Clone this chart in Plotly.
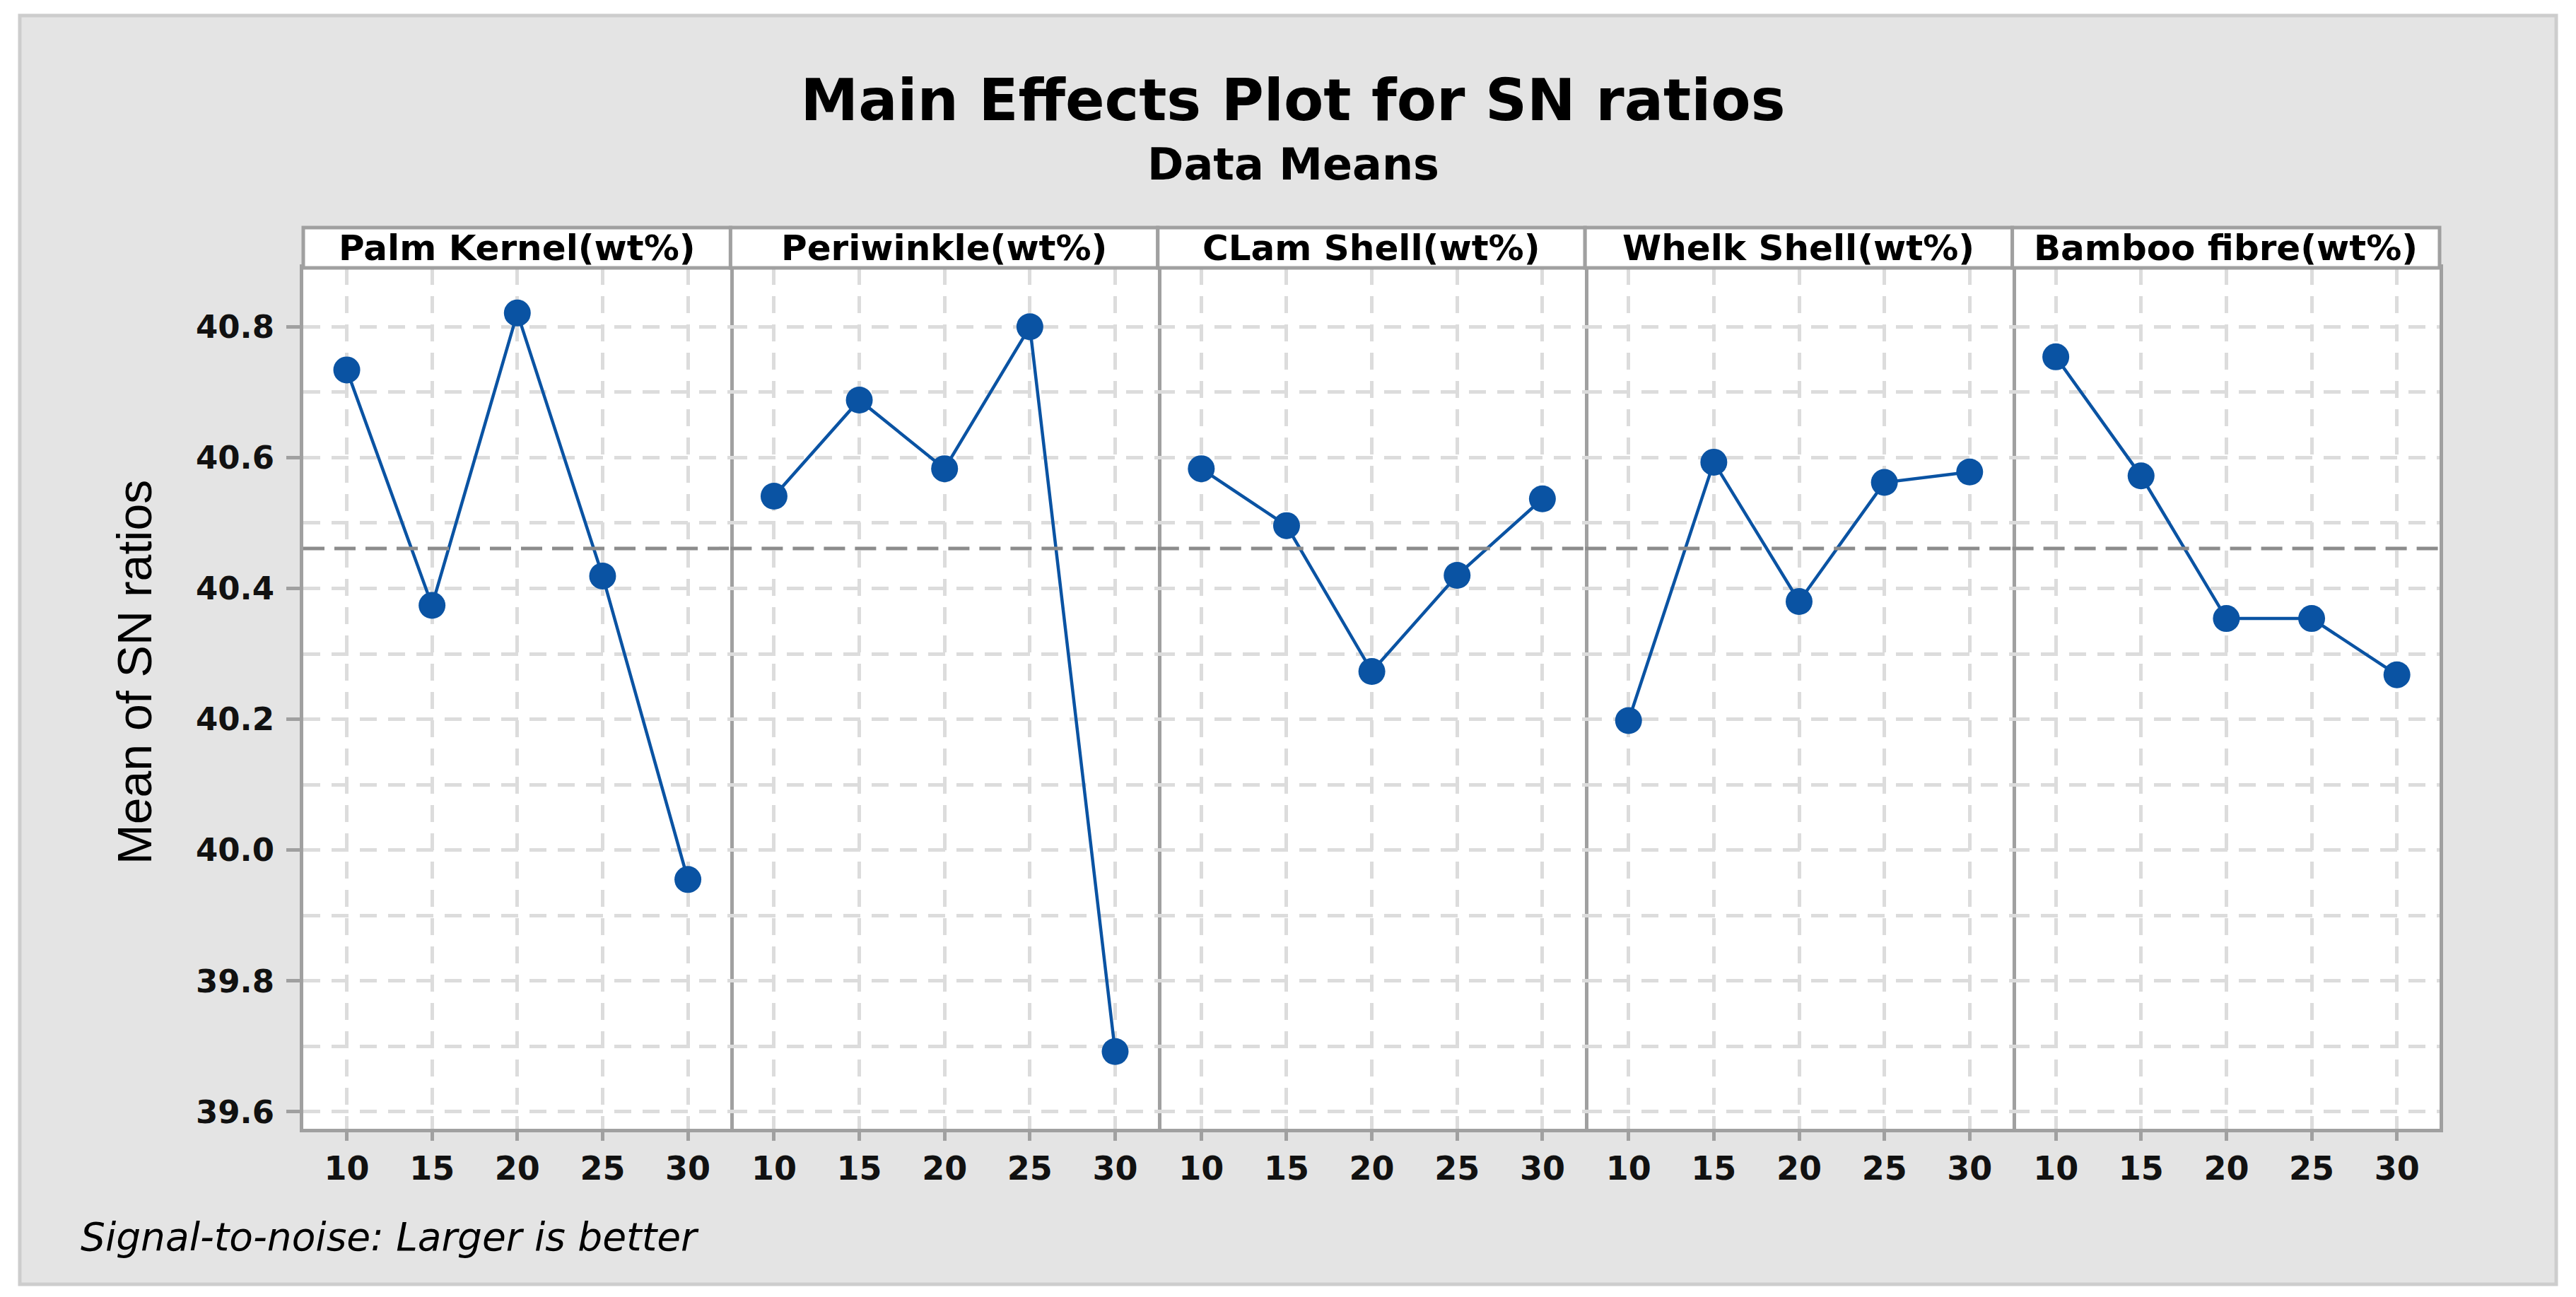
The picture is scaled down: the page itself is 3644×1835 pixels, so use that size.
import plotly.graph_objects as go
from plotly.subplots import make_subplots

# ---------------- data ----------------
factors = ["Palm Kernel(wt%)", "Periwinkle(wt%)", "CLam Shell(wt%)",
           "Whelk Shell(wt%)", "Bamboo fibre(wt%)"]
levels = [10, 15, 20, 25, 30]
palm_kernel = [40.734, 40.374, 40.821, 40.419, 39.955]
periwinkle = [40.541, 40.688, 40.583, 40.800, 39.692]
clam_shell = [40.583, 40.496, 40.273, 40.420, 40.537]
whelk_shell = [40.198, 40.593, 40.380, 40.562, 40.578]
bamboo_fibre = [40.754, 40.572, 40.354, 40.354, 40.268]
y_ticks = [39.6, 39.8, 40.0, 40.2, 40.4, 40.6, 40.8]

series = [palm_kernel, periwinkle, clam_shell, whelk_shell, bamboo_fibre]
all_vals = [v for s in series for v in s]
grand_mean = sum(all_vals) / len(all_vals)
y_minor = [(a + b) / 2 for a, b in zip(y_ticks[:-1], y_ticks[1:])] + [y_ticks[-1] + 0.1]

# ---------------- geometry ----------------
W, H = 3644, 1835
L, R, T, B = 429, 193, 322, 238
PLOT_TOP = 379


def xp(px):
    return (px - L) / (W - L - R)


def yp(py):
    return (H - B - py) / (H - T - B)


BLUE = "#0a53a3"
FRAME = "#a0a0a0"
GRID = "#dcdcdc"
FONT = "DejaVu Sans"

fig = make_subplots(rows=1, cols=5, shared_yaxes=True, horizontal_spacing=0)

for i, vals in enumerate(series, start=1):
    fig.add_trace(go.Scatter(x=levels, y=vals, mode="lines+markers",
                             line=dict(color=BLUE, width=4.5),
                             marker=dict(size=38, color=BLUE),
                             showlegend=False), row=1, col=i)

fig.update_xaxes(range=[7.45, 32.5], tickmode="array", tickvals=levels,
                 showline=True, mirror=True, linecolor=FRAME, linewidth=5,
                 showgrid=True, gridcolor=GRID, gridwidth=5, griddash="24px,16px",
                 ticks="outside", ticklen=12, tickwidth=5, tickcolor=FRAME,
                 tickfont=dict(family=FONT, size=46, color="#111111", weight="bold"),
                 zeroline=False, fixedrange=True)

fig.update_yaxes(range=[39.574, 40.89], tickmode="array", tickvals=y_ticks,
                 tickformat=".1f", domain=[0, yp(PLOT_TOP)],
                 showline=True, mirror=False, side="right",
                 linecolor=FRAME, linewidth=5,
                 showgrid=True, gridcolor=GRID, gridwidth=5, griddash="24px,16px",
                 minor=dict(tickmode="array", tickvals=y_minor, showgrid=True,
                            gridcolor=GRID, gridwidth=5, griddash="24px,16px", ticks=""),
                 ticks="", tickwidth=5, tickcolor=FRAME,
                 tickfont=dict(family=FONT, size=45, color="#111111", weight="bold"),
                 zeroline=False, fixedrange=True)
fig.update_yaxes(side="left", mirror=True, ticks="outside", ticklen=19,
                 ticklabelstandoff=8, row=1, col=1)

shapes = []
annotations = []
for i, name in enumerate(factors, start=1):
    xr = "x domain" if i == 1 else f"x{i} domain"
    yr = "y" if i == 1 else f"y{i}"
    # reference (grand mean) line
    shapes.append(dict(type="line", xref=xr, yref=yr, x0=0, x1=1,
                       y0=grand_mean, y1=grand_mean, layer="above",
                       line=dict(color="#8c8c8c", width=5, dash="30px,14px")))
    # header strip
    shapes.append(dict(type="rect", xref=xr, yref="paper", x0=0, x1=1,
                       y0=yp(PLOT_TOP), y1=yp(T), fillcolor="white",
                       line=dict(color=FRAME, width=5), layer="above"))
    annotations.append(dict(text=name, xref=xr, yref="paper", x=0.5,
                            y=(yp(PLOT_TOP) + yp(T)) / 2, xanchor="center",
                            yanchor="middle", showarrow=False,
                            font=dict(family=FONT, size=50, color="#000000", weight="bold")))

# white outer margin + light border around grey panel
for x0, x1, y0, y1 in [(0, 28, 0, H), (3616, W, 0, H), (0, W, 0, 22), (0, W, 1817, H)]:
    shapes.append(dict(type="rect", xref="paper", yref="paper",
                       x0=xp(x0), x1=xp(x1), y0=yp(y1), y1=yp(y0),
                       fillcolor="white", line=dict(width=0), layer="above"))
shapes.append(dict(type="rect", xref="paper", yref="paper",
                   x0=xp(28), x1=xp(3616), y0=yp(1817), y1=yp(22),
                   fillcolor="rgba(0,0,0,0)", line=dict(color="#cdcdcd", width=5),
                   layer="above"))

annotations += [
    dict(text="Data Means", xref="paper", yref="paper", x=xp(1829), y=yp(232),
         xanchor="center", yanchor="middle", showarrow=False,
         font=dict(family=FONT, size=62, color="#000000", weight="bold")),
    dict(text="Mean of SN ratios", xref="paper", yref="paper", x=xp(190), y=yp(951),
         xanchor="center", yanchor="middle", showarrow=False, textangle=-90,
         font=dict(family="Liberation Sans", size=68, color="#000000")),
    dict(text="Signal-to-noise: Larger is better", xref="paper", yref="paper",
         x=xp(112), y=yp(1750), xanchor="left", yanchor="middle", showarrow=False,
         font=dict(family=FONT, size=55, color="#000000", style="italic")),
]

fig.update_layout(
    width=W, height=H,
    margin=dict(l=L, r=R, t=T, b=B, pad=0),
    paper_bgcolor="#e4e4e4", plot_bgcolor="white",
    title=dict(text="Main Effects Plot for SN ratios", xref="container", yref="container",
               x=1829 / W, y=1 - 141 / H, xanchor="center", yanchor="middle",
               font=dict(family=FONT, size=82, color="#000000", weight="bold")),
    shapes=shapes, annotations=annotations,
    showlegend=False,
)

fig.write_html("out.html", config={"displayModeBar": False},
               post_script="document.body.style.margin='0';")
